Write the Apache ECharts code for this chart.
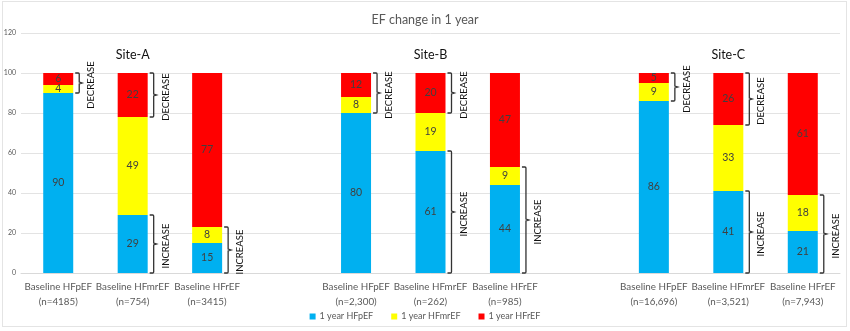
<!DOCTYPE html>
<html>
<head>
<meta charset="utf-8">
<script src="https://cdn.jsdelivr.net/npm/echarts@6/dist/echarts.min.js"></script>
<style>
  html, body { margin: 0; padding: 0; background: #fff; }
  #frame { position: absolute; left: 2px; top: 1px; width: 845px; height: 326px; border: 1px solid #e4e4e4; box-sizing: border-box; }
  #chart { width: 850px; height: 331px; position: absolute; left: 0; top: 0; }
</style>
</head>
<body>
<div id="frame"></div>
<div id="chart"></div>
<script>
// Category slots: three sites, with an empty slot between sites
const categories = [
  'Baseline HFpEF\n(n=4185)', 'Baseline HFmrEF\n(n=754)', 'Baseline HFrEF\n(n=3415)', '',
  'Baseline HFpEF\n(n=2,300)', 'Baseline HFmrEF\n(n=262)', 'Baseline HFrEF\n(n=985)', '',
  'Baseline HFpEF\n(n=16,696)', 'Baseline HFmrEF\n(n=3,521)', 'Baseline HFrEF\n(n=7,943)'
];
const sites = ['Site-A', 'Site-B', 'Site-C'];

// Share (%) of each baseline group in each 1-year EF class
const hfpef1y  = [90, 29, 15, '-', 80, 61, 44, '-', 86, 41, 21];
const hfmref1y = [4, 49, 8, '-', 8, 19, 9, '-', 9, 33, 18];
const hfref1y  = [6, 22, 77, '-', 12, 20, 47, '-', 5, 26, 61];

const yTicks = [0, 20, 40, 60, 80, 100, 120];

const colors = { p: '#00B0F0', m: '#FFFF00', r: '#FF0000' };
const textGray = '#595959';
const font = 'Lato, "Open Sans", sans-serif';

// Brackets: decrease over the two leftmost bars of each site, increase over the two rightmost
const brackets = [];
for (let s = 0; s < 3; s++) {
  const b = s * 4;
  brackets.push([b, hfpef1y[b], 100, 'DECREASE']);
  brackets.push([b + 1, hfpef1y[b + 1] + hfmref1y[b + 1], 100, 'DECREASE']);
  brackets.push([b + 1, 0, hfpef1y[b + 1], 'INCREASE']);
  brackets.push([b + 2, 0, hfpef1y[b + 2] + hfmref1y[b + 2], 'INCREASE']);
}
const siteLevel = 109;
const siteData = sites.map((name, i) => [i * 4 + 1, siteLevel, name]);

const chart = echarts.init(document.getElementById('chart'));
const barWidth = 30;

function segLabel() {
  return { show: true, position: 'inside', color: '#404040', fontSize: 10.5, fontFamily: font };
}

chart.setOption({
  animation: false,
  title: {
    text: 'EF change in 1 year', left: 'center', top: 8,
    textStyle: { color: textGray, fontSize: 12.5, fontWeight: 'normal', fontFamily: font }
  },
  legend: {
    bottom: 5, left: 'center', itemWidth: 6, itemHeight: 6, itemGap: 18, icon: 'rect',
    textStyle: { color: textGray, fontSize: 9, fontFamily: font, padding: [0, 0, 0, -1] },
    data: ['1 year HFpEF', '1 year HFmrEF', '1 year HFrEF']
  },
  grid: { left: 21, right: 10, top: 33, bottom: 58, containLabel: false },
  xAxis: {
    type: 'category', data: categories,
    axisTick: { show: false },
    axisLine: { lineStyle: { color: '#d9d9d9' } },
    axisLabel: { color: textGray, fontSize: 9.8, lineHeight: 15, margin: 6, fontFamily: font, interval: 0 }
  },
  yAxis: {
    type: 'value', min: yTicks[0], max: yTicks[yTicks.length - 1], interval: 20,
    splitLine: { lineStyle: { color: '#e3e3e3' } },
    axisLine: { show: false }, axisTick: { show: false },
    axisLabel: { color: textGray, fontSize: 7, margin: 5, fontFamily: font }
  },
  series: [
    { name: '1 year HFpEF', type: 'bar', stack: 'ef', barWidth: barWidth, data: hfpef1y,
      itemStyle: { color: colors.p }, label: segLabel() },
    { name: '1 year HFmrEF', type: 'bar', stack: 'ef', barWidth: barWidth, data: hfmref1y,
      itemStyle: { color: colors.m }, label: segLabel() },
    { name: '1 year HFrEF', type: 'bar', stack: 'ef', barWidth: barWidth, data: hfref1y,
      itemStyle: { color: colors.r }, label: segLabel() },
    {
      type: 'custom', data: brackets, silent: true, z: 5,
      renderItem: function (params, api) {
        const top = api.coord([api.value(0), api.value(2)]);
        const bot = api.coord([api.value(0), api.value(1)]);
        const x0 = top[0] + barWidth / 2 + 2;
        const yT = top[1], yB = bot[1], yM = (yT + yB) / 2;
        const x1 = x0 + 4, x2 = x0 + 7;
        const path = `M${x0},${yT} L${x1 - 1},${yT} Q${x1},${yT} ${x1},${yT + 1} L${x1},${yM - 1} L${x2},${yM} L${x1},${yM + 1} L${x1},${yB - 1} Q${x1},${yB} ${x1 - 1},${yB} L${x0},${yB}`;
        return {
          type: 'group',
          children: [
            { type: 'path', shape: { pathData: path },
              style: { fill: null, stroke: '#333', lineWidth: 1.3 } },
            { type: 'text', x: x0 + 16, y: yM + 2, rotation: Math.PI / 2,
              style: { text: brackets[params.dataIndex][3], align: 'center', verticalAlign: 'middle',
                       fill: '#111', fontSize: 9.5, fontFamily: font } }
          ]
        };
      }
    },
    {
      type: 'custom', data: siteData, silent: true, z: 5,
      renderItem: function (params, api) {
        const p = api.coord([api.value(0), api.value(1)]);
        return { type: 'text', x: p[0], y: p[1],
          style: { text: siteData[params.dataIndex][2], align: 'center', verticalAlign: 'middle',
                   fill: '#111', fontSize: 12.5, fontFamily: font } };
      }
    }
  ]
});
</script>
</body>
</html>
